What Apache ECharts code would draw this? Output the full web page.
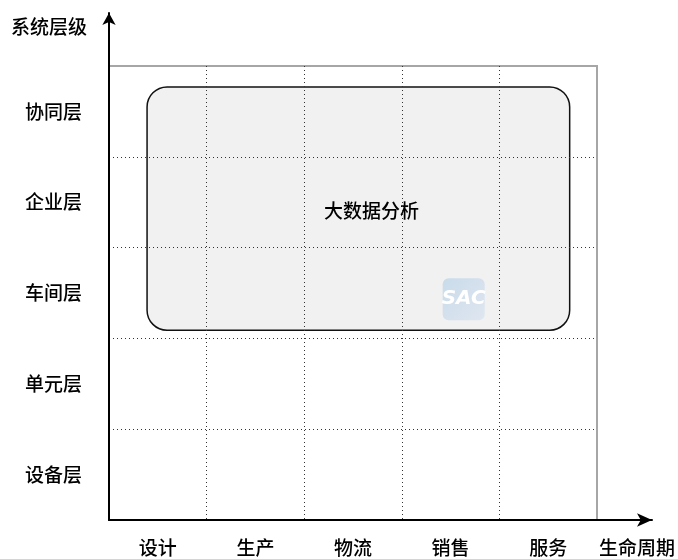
<!DOCTYPE html>
<html>
<head>
<meta charset="utf-8">
<script src="https://cdn.jsdelivr.net/npm/echarts@6/dist/echarts.min.js"></script>
<style>html,body{margin:0;padding:0;background:#fff}#c{width:678px;height:559px}</style>
</head>
<body>
<div id="c"></div>
<script>
const xCategories = ['设计', '生产', '物流', '销售', '服务'];
const yCategories = ['设备层', '单元层', '车间层', '企业层', '协同层'];
const xAxisName = '生命周期';
const yAxisName = '系统层级';
// region in category units: [xStart, xEnd, yStart, yEnd]
const regionBox = [0.39, 4.72, 2.09, 4.77];
const regionLabel = '大数据分析';
const regionLabelPos = [2.69, 3.41];

const FONT = '"Noto Sans CJK SC", sans-serif';
const TXT = {fontFamily: FONT, fontSize: 19, fontWeight: 500, color: '#000'};
const chart = echarts.init(document.getElementById('c'), null, {renderer: 'canvas'});

const option = {
  animation: false,
  backgroundColor: '#fff',
  grid: [
    {left: 109, right: 25, top: 13, bottom: 39, show: false},
    {left: 109, right: 81, top: 66, bottom: 39, show: true, borderColor: '#a6a6a6', borderWidth: 2, backgroundColor: 'transparent'}
  ],
  xAxis: [
    {gridIndex: 0, type: 'value', min: 0, max: 1, z: 10,
      axisLine: {show: true, onZero: false, lineStyle: {color: '#000', width: 2}, symbol: ['none', 'arrow'], symbolSize: [10, 15]},
      axisTick: {show: false}, axisLabel: {show: false}, splitLine: {show: false},
      name: xAxisName, nameLocation: 'end', nameGap: -53,
      nameTextStyle: Object.assign({}, TXT, {align: 'left', verticalAlign: 'top', padding: [18, 0, 0, 0]})},
    {gridIndex: 1, type: 'category', data: xCategories, boundaryGap: true, z: 3,
      axisLine: {show: false}, axisTick: {show: false},
      axisLabel: Object.assign({}, TXT, {margin: 18}),
      splitLine: {show: true, showMinLine: false, showMaxLine: false, lineStyle: {color: '#333', width: 1, type: [1, 3]}}},
    {gridIndex: 1, type: 'value', min: 0, max: 5, show: false}
  ],
  yAxis: [
    {gridIndex: 0, type: 'value', min: 0, max: 1, z: 10,
      axisLine: {show: true, onZero: false, lineStyle: {color: '#000', width: 2}, symbol: ['none', 'arrow'], symbolSize: [10, 12]},
      axisTick: {show: false}, axisLabel: {show: false}, splitLine: {show: false},
      name: yAxisName, nameLocation: 'end', nameGap: -14,
      nameTextStyle: Object.assign({}, TXT, {align: 'right', verticalAlign: 'middle', padding: [0, 22, 0, 0]})},
    {gridIndex: 1, type: 'category', data: yCategories, boundaryGap: true, z: 3,
      axisLine: {show: false}, axisTick: {show: false},
      axisLabel: Object.assign({}, TXT, {margin: 27}),
      splitLine: {show: true, showMinLine: false, showMaxLine: false, lineStyle: {color: '#333', width: 1, type: [1, 3]}}},
    {gridIndex: 1, type: 'value', min: 0, max: 5, show: false}
  ],
  series: [{
    type: 'custom',
    xAxisIndex: 2, yAxisIndex: 2, z: 1,
    data: [[regionBox[0], regionBox[1], regionBox[2], regionBox[3], regionLabelPos[0], regionLabelPos[1]]],
    renderItem: function (params, api) {
      const p0 = api.coord([api.value(0), api.value(3)]);
      const p1 = api.coord([api.value(1), api.value(2)]);
      const t = api.coord([api.value(4), api.value(5)]);
      const lx = p1[0] - 127, ly = p1[1] - 52;
      return {
        type: 'group',
        children: [
          {type: 'rect', shape: {x: p0[0], y: p0[1], width: p1[0] - p0[0], height: p1[1] - p0[1], r: 20},
            style: {fill: '#f1f1f1', stroke: '#111', lineWidth: 1.5}},
          {type: 'rect', shape: {x: lx, y: ly, width: 42, height: 42, r: 6},
            style: {fill: new echarts.graphic.LinearGradient(0, 0, 1, 1, [{offset: 0, color: '#c9dbea'}, {offset: 1, color: '#dfe6f0'}])}},
          {type: 'text', x: lx + 21, y: ly + 21,
            style: {text: 'SAC', fill: '#fff', font: 'italic bold 20px "DejaVu Sans", sans-serif', align: 'center', verticalAlign: 'middle'}},
          {type: 'text', x: t[0], y: t[1],
            style: {text: regionLabel, fill: '#000', font: '500 19px "Noto Sans CJK SC", sans-serif', align: 'center', verticalAlign: 'middle'}}
        ]
      };
    }
  }]
};
chart.setOption(option);
</script>
</body>
</html>
